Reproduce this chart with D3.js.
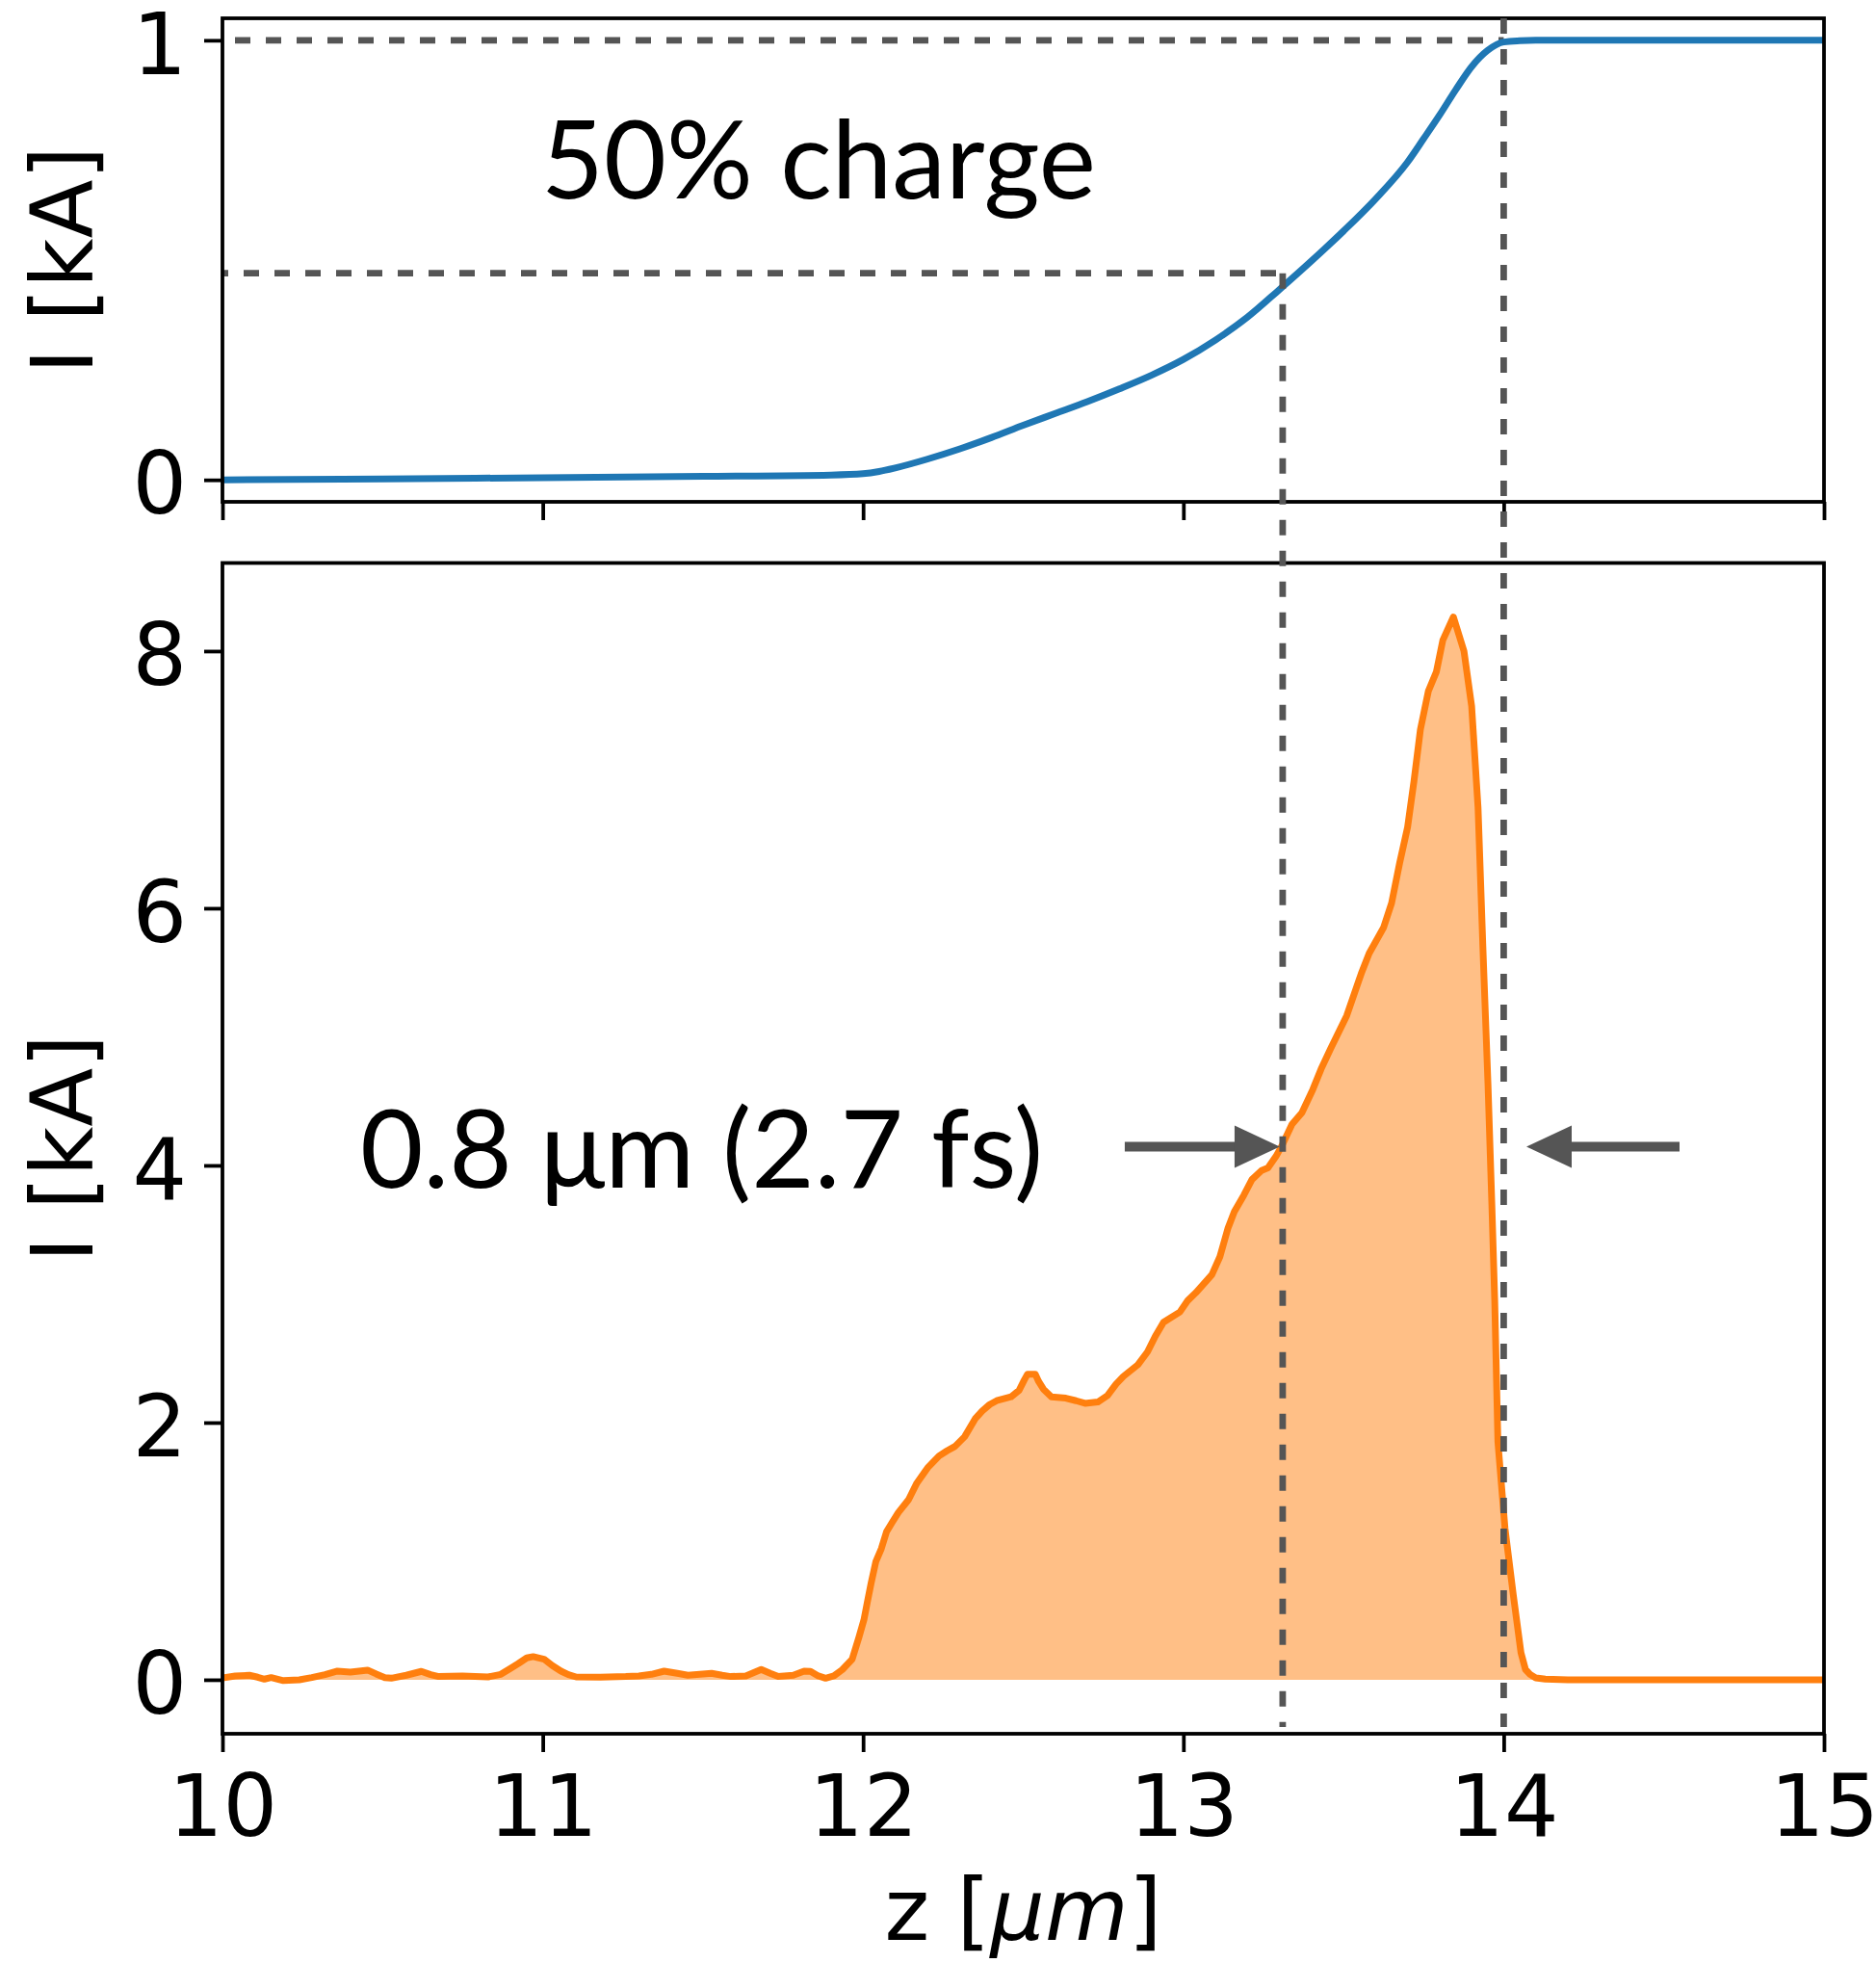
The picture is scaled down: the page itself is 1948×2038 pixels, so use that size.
<!DOCTYPE html>
<html>
<head>
<meta charset="utf-8">
<script src="https://cdn.jsdelivr.net/npm/d3@7"></script>
<style>
  html, body { margin: 0; padding: 0; background: #fff; }
  svg { display: block; }
</style>
</head>
<body>
<svg id="chart" width="1948" height="2038"></svg>
<script>
// ---- data -------------------------------------------------------------
// Normalised cumulative charge along the bunch (upper panel)
const zCharge = [10, 10.5, 11, 11.5, 11.9, 12.0, 12.05, 12.1, 12.2, 12.3, 12.4, 12.5, 12.6, 12.7,
  12.8, 12.9, 13.0, 13.1, 13.2, 13.3, 13.4, 13.5, 13.6, 13.7, 13.75, 13.8, 13.85, 13.9, 13.95,
  14.0, 14.05, 14.1, 14.5, 15];
const chargeFraction = [0, 0.002, 0.005, 0.008, 0.011, 0.014, 0.019, 0.027, 0.047, 0.07, 0.096,
  0.124, 0.151, 0.178, 0.207, 0.238, 0.274, 0.318, 0.37, 0.433, 0.498, 0.566, 0.639, 0.723, 0.776,
  0.83, 0.887, 0.94, 0.977, 0.996, 0.999, 1.0, 1.0, 1.0];

// Current profile I(z) in kA (lower panel)
const zCurrent = [10.0, 10.04, 10.084, 10.11, 10.131, 10.152, 10.19, 10.24, 10.279, 10.32, 10.359,
  10.399, 10.453, 10.48, 10.507, 10.527, 10.574, 10.621, 10.65, 10.675, 10.749, 10.829, 10.869,
  10.9, 10.923, 10.95, 10.97, 11.004, 11.03, 11.057, 11.08, 11.104, 11.18, 11.259, 11.3, 11.339,
  11.379, 11.42, 11.453, 11.527, 11.56, 11.587, 11.634, 11.682, 11.71, 11.735, 11.782, 11.816,
  11.836, 11.86, 11.883, 11.909, 11.935, 11.966, 11.987, 12.003, 12.013, 12.025, 12.04, 12.057,
  12.073, 12.09, 12.11, 12.142, 12.168, 12.202, 12.237, 12.262, 12.287, 12.317, 12.35, 12.372,
  12.395, 12.417, 12.462, 12.487, 12.503, 12.513, 12.538, 12.548, 12.563, 12.588, 12.633, 12.665,
  12.693, 12.733, 12.763, 12.79, 12.813, 12.858, 12.888, 12.912, 12.938, 12.989, 13.014, 13.039,
  13.089, 13.114, 13.139, 13.159, 13.189, 13.214, 13.244, 13.264, 13.289, 13.309, 13.339, 13.37,
  13.404, 13.43, 13.46, 13.51, 13.555, 13.58, 13.625, 13.65, 13.675, 13.7, 13.72, 13.74, 13.765,
  13.79, 13.81, 13.843, 13.876, 13.9, 13.92, 13.935, 13.951, 13.963, 13.972, 13.982, 14.004,
  14.03, 14.054, 14.068, 14.083, 14.1, 14.13, 14.2, 14.5, 15.0];
const current = [0.015, 0.03, 0.035, 0.02, 0.005, 0.017, -0.007, 0.0, 0.017, 0.04, 0.067,
  0.06, 0.075, 0.045, 0.017, 0.012, 0.035, 0.065, 0.04, 0.025, 0.03, 0.022, 0.042,
  0.09, 0.125, 0.17, 0.18, 0.16, 0.11, 0.067, 0.04, 0.022, 0.02, 0.025, 0.03, 0.042,
  0.067, 0.05, 0.035, 0.05, 0.035, 0.025, 0.03, 0.08, 0.05, 0.025, 0.035, 0.067,
  0.065, 0.03, 0.012, 0.03, 0.078, 0.16, 0.33, 0.47, 0.6, 0.75, 0.92, 1.02,
  1.15, 1.22, 1.3, 1.4, 1.53, 1.65, 1.74, 1.78, 1.815, 1.89, 2.03, 2.09,
  2.14, 2.17, 2.2, 2.25, 2.33, 2.375, 2.375, 2.32, 2.26, 2.2, 2.19, 2.17,
  2.15, 2.16, 2.21, 2.3, 2.36, 2.45, 2.55, 2.67, 2.78, 2.86, 2.95, 3.01,
  3.15, 3.29, 3.51, 3.64, 3.77, 3.89, 3.96, 3.98, 4.07, 4.16, 4.32, 4.41,
  4.59, 4.75, 4.91, 5.165, 5.49, 5.65, 5.85, 6.04, 6.35, 6.63, 6.99, 7.39, 7.69,
  7.84, 8.085, 8.265, 8.0, 7.57, 6.78, 5.7, 4.63, 3.7, 2.95, 1.85, 1.18,
  0.66, 0.21, 0.08, 0.04, 0.015, 0.005, 0.0, 0.0, 0.0];

const xTicks = [10, 11, 12, 13, 14, 15];
const topYTicks = [0, 1];
const bottomYTicks = [0, 2, 4, 6, 8];

// Rear and front edge of the 50 % charge slice
const zRear = 13.31;
const zFront = 14.0;
const halfChargeLevel = 0.47;
const fullChargeLevel = 1.0;
const arrowLevel = 4.145;
const leftArrow = [12.817, 13.301];   // tail, tip
const rightArrow = [14.549, 14.071];  // tail, tip

const chargeLabel = "50% charge";
const widthLabel = "0.8 μm (2.7 fs)";
const yLabel = "I [kA]";

// ---- layout -----------------------------------------------------------
const svg = d3.select("#chart");
const W = 1948, H = 2038;
svg.append("rect").attr("width", W).attr("height", H).attr("fill", "#fff");

const left = 231, right = 1894;
const top1 = 19, bottom1 = 521;
const top2 = 584.5, bottom2 = 1800;

const x = d3.scaleLinear().domain([10, 15]).range([left, right]);
const yTop = d3.scaleLinear().domain([-0.05, 1.05]).range([bottom1, top1]);
const yBot = d3.scaleLinear().domain([-0.42, 8.685]).range([bottom2, top2]);

const tickFont = "'DejaVu Sans', sans-serif";
const noteFont = "Lato, 'DejaVu Sans', sans-serif";
const fontSize = 89;
const dashGray = "#555555";
const lineW = 7;
const dashW = 6.8;
const frameW = 3.8;

svg.append("defs").selectAll("clipPath")
  .data([["clipTop", top1, bottom1], ["clipBot", top2, bottom2]])
  .join("clipPath").attr("id", d => d[0])
  .append("rect").attr("x", left).attr("y", d => d[1])
  .attr("width", right - left).attr("height", d => d[2] - d[1]);

// ---- upper panel: cumulative charge ------------------------------------
const gTop = svg.append("g");
const chargePts = zCharge.map((z, i) => [z, chargeFraction[i]]);

// reference levels (dashed)
gTop.append("line")
  .attr("x1", x(10)).attr("x2", x(zFront))
  .attr("y1", yTop(fullChargeLevel)).attr("y2", yTop(fullChargeLevel))
  .attr("stroke", dashGray).attr("stroke-width", dashW)
  .attr("stroke-dasharray", "16,16").attr("stroke-dashoffset", 19);
gTop.append("line")
  .attr("x1", x(10)).attr("x2", x(zRear))
  .attr("y1", yTop(halfChargeLevel)).attr("y2", yTop(halfChargeLevel))
  .attr("stroke", dashGray).attr("stroke-width", dashW)
  .attr("stroke-dasharray", "16,16").attr("stroke-dashoffset", 10);

gTop.append("path")
  .datum(chargePts)
  .attr("clip-path", "url(#clipTop)")
  .attr("fill", "none")
  .attr("stroke", "#1f77b4")
  .attr("stroke-width", lineW)
  .attr("stroke-linejoin", "round")
  .attr("d", d3.line().x(d => x(d[0])).y(d => yTop(d[1])).curve(d3.curveMonotoneX));

gTop.append("text")
  .attr("x", 562).attr("y", 206)
  .attr("font-family", noteFont).attr("font-size", 112)
  .attr("fill", "#000")
  .text(chargeLabel);

// ---- lower panel: current profile --------------------------------------
const gBot = svg.append("g");
const currentPts = zCurrent.map((z, i) => [z, current[i]]);

gBot.append("path")
  .datum(currentPts)
  .attr("clip-path", "url(#clipBot)")
  .attr("fill", "#ff7f0e").attr("fill-opacity", 0.5)
  .attr("d", d3.area().x(d => x(d[0])).y0(yBot(0)).y1(d => yBot(d[1])));

gBot.append("path")
  .datum(currentPts)
  .attr("clip-path", "url(#clipBot)")
  .attr("fill", "none")
  .attr("stroke", "#ff7f0e")
  .attr("stroke-width", lineW)
  .attr("stroke-linejoin", "round")
  .attr("d", d3.line().x(d => x(d[0])).y(d => yBot(d[1])));

gBot.append("text")
  .attr("x", 374).attr("y", 1233)
  .attr("font-family", noteFont).attr("font-size", 113)
  .attr("fill", "#000")
  .text(widthLabel);

// ---- axes ---------------------------------------------------------------
function styleAxis(g) {
  g.select(".domain").remove();
  g.selectAll(".tick line").attr("stroke", "#000").attr("stroke-width", frameW);
  g.selectAll(".tick text")
    .attr("font-family", tickFont).attr("font-size", fontSize).attr("fill", "#000");
}

svg.append("g").attr("transform", `translate(${left},0)`)
  .call(d3.axisLeft(yTop).tickValues(topYTicks).tickFormat(d3.format("d")).tickSize(19).tickPadding(18))
  .call(styleAxis)
  .call(g => g.selectAll(".tick text").attr("dy", "0.39em"));

svg.append("g").attr("transform", `translate(0,${bottom1})`)
  .call(d3.axisBottom(x).tickValues(xTicks).tickFormat("").tickSize(19))
  .call(styleAxis);

svg.append("g").attr("transform", `translate(${left},0)`)
  .call(d3.axisLeft(yBot).tickValues(bottomYTicks).tickFormat(d3.format("d")).tickSize(19).tickPadding(18))
  .call(styleAxis)
  .call(g => g.selectAll(".tick text").attr("dy", "0.39em"));

svg.append("g").attr("transform", `translate(0,${bottom2})`)
  .call(d3.axisBottom(x).tickValues(xTicks).tickFormat(d3.format("d")).tickSize(19))
  .call(styleAxis)
  .call(g => g.selectAll(".tick text").attr("y", 106).attr("dy", 0));

// frames
[[top1, bottom1], [top2, bottom2]].forEach(([t, b]) => {
  svg.append("rect")
    .attr("x", left).attr("y", t)
    .attr("width", right - left).attr("height", b - t)
    .attr("fill", "none").attr("stroke", "#000").attr("stroke-width", frameW);
});

// axis labels
[(top1 + bottom1) / 2, (top2 + bottom2) / 2].forEach(cy => {
  svg.append("text")
    .attr("transform", `translate(96,${cy}) rotate(-90)`)
    .attr("text-anchor", "middle")
    .attr("font-family", tickFont).attr("font-size", fontSize).attr("fill", "#000")
    .text(yLabel);
});

const xl = svg.append("text")
  .attr("x", (left + right) / 2).attr("y", 2014)
  .attr("text-anchor", "middle")
  .attr("font-family", tickFont).attr("font-size", fontSize).attr("fill", "#000");
xl.append("tspan").text("z [");
xl.append("tspan").attr("font-style", "italic").text("μm");
xl.append("tspan").text("]");

// ---- vertical markers spanning both panels -------------------------------
const markerEnd = 1793;
svg.append("line")
  .attr("x1", x(zRear)).attr("x2", x(zRear))
  .attr("y1", yTop(halfChargeLevel)).attr("y2", markerEnd)
  .attr("stroke", dashGray).attr("stroke-width", dashW)
  .attr("stroke-dasharray", "16,16");
svg.append("line")
  .attr("x1", x(zFront)).attr("x2", x(zFront))
  .attr("y1", top1).attr("y2", markerEnd)
  .attr("stroke", dashGray).attr("stroke-width", dashW)
  .attr("stroke-dasharray", "16,16");

// ---- width arrows ----------------------------------------------------------
function arrow(tailZ, tipZ) {
  const x0 = x(tailZ), x1 = x(tipZ), yy = yBot(arrowLevel);
  const dir = Math.sign(x1 - x0);
  const headLen = 47, headHalf = 22;
  const xb = x1 - dir * headLen;
  svg.append("line")
    .attr("x1", x0).attr("x2", xb + dir * 2).attr("y1", yy).attr("y2", yy)
    .attr("stroke", dashGray).attr("stroke-width", 10);
  svg.append("path")
    .attr("d", `M${x1},${yy} L${xb},${yy - headHalf} L${xb},${yy + headHalf} Z`)
    .attr("fill", dashGray);
}
arrow(leftArrow[0], leftArrow[1]);
arrow(rightArrow[0], rightArrow[1]);
</script>
</body>
</html>
